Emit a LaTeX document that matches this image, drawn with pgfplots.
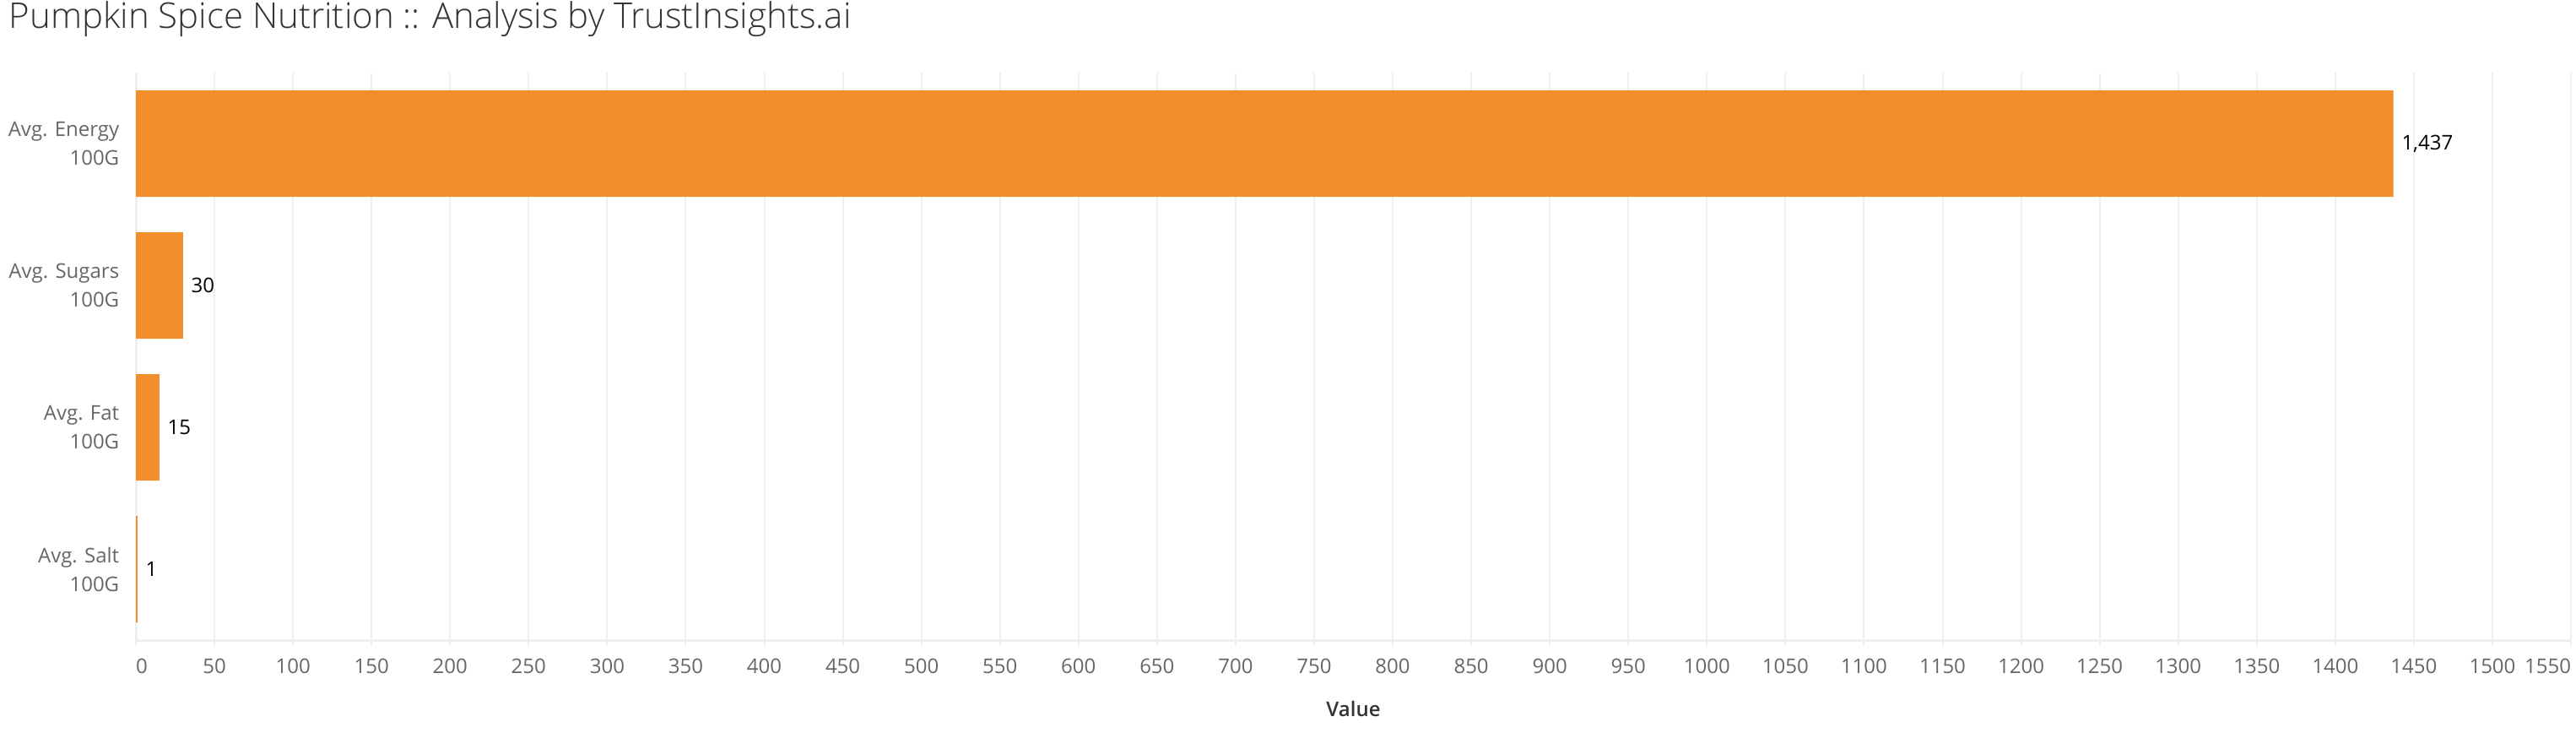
\documentclass[border=0pt]{standalone}
\usepackage{fontspec}
\setmainfont{Open Sans}
\newfontfamily\titlefont{Open Sans Light}
\newfontfamily\semifont{Open Sans Semibold}
\usepackage{pgfplots}
\pgfplotsset{compat=1.18}

\definecolor{pumpkin}{HTML}{F28E2B}
\definecolor{gridgray}{HTML}{EFEFEF}
\definecolor{labelgray}{HTML}{666666}
\definecolor{titlegray}{HTML}{333333}

\begin{document}
\begin{tikzpicture}
    \begin{axis}[
        name=ax,
        at={(0,0)}, anchor=south west,
        scale only axis,
        width=721.25bp, height=168bp,
        xbar, bar width=31.5bp,
        xmin=0, xmax=1550,
        ymin=-0.5, ymax=3.5,
        axis lines*=left,
        axis line style={draw=gridgray, line width=0.75bp},
        xmajorgrids, grid style={draw=gridgray, line width=0.5bp},
        xtick={0,50,...,1550},
        tick align=outside,
        major tick length=1.75bp,
        x tick style={draw=gridgray, line width=0.5bp},
        y tick style={draw=none},
        /pgf/number format/assume math mode=true,
        /pgf/number format/1000 sep={},
        xticklabel={\ifdim\tick pt<1pt \makebox[0pt][l]{0}\else\ifdim\tick pt>1549pt \makebox[0pt][r]{1550}\else\pgfmathprintnumber{\tick}\fi\fi},
        x tick label style={font=\fontsize{6bp}{7bp}\selectfont, text=labelgray, inner sep=0pt, yshift=-3.5bp},
        ytick={0,1,2,3},
        yticklabels={{Avg. Salt\\100G}, {Avg. Fat\\100G}, {Avg. Sugars\\100G}, {Avg. Energy\\100G}},
        y tick label style={font=\fontsize{6bp}{8.5bp}\selectfont, text=labelgray, align=right, inner sep=0pt, xshift=-3bp},
        xlabel={Value},
        x label style={font=\semifont\fontsize{6bp}{7bp}\selectfont, text=titlegray, at={(axis description cs:0.5,0)}, anchor=north, inner sep=0pt, yshift=-17.75bp},
        title={Pumpkin Spice Nutrition :: Analysis by TrustInsights.ai},
        title style={font=\titlefont\fontsize{10.5bp}{12bp}\selectfont, text=titlegray, at={(axis description cs:0,1)}, anchor=base west, inner sep=0pt, xshift=-37.75bp, yshift=7.25bp},
        point meta=x,
        nodes near coords={\pgfmathprintnumber[1000 sep={,}]{\pgfplotspointmeta}},
        nodes near coords style={font=\fontsize{6bp}{7bp}\selectfont, text=black, anchor=west, inner sep=0pt, xshift=2.25bp},
    ]
        \addplot[fill=pumpkin, draw=none] coordinates {(1437,3) (30,2) (15,1) (1,0)};
    \end{axis}
    \pgfresetboundingbox
    \path[use as bounding box] (ax.south west) ++(-40.25bp,-27.5bp) rectangle ++(763bp,217bp);
\end{tikzpicture}
\end{document}
